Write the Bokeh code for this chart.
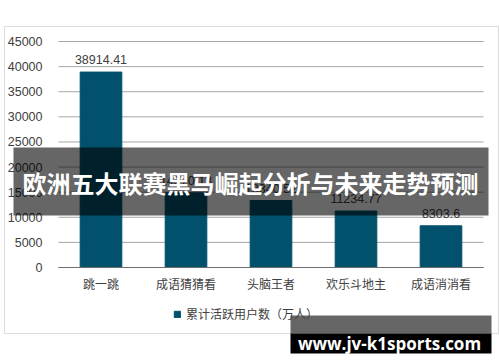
from bokeh.plotting import figure
from bokeh.models import (ColumnDataSource, LabelSet, Label, BoxAnnotation, Legend,
                          LegendItem, Range1d, FixedTicker)
from bokeh.core.properties import value
from bokeh.embed import file_html
from bokeh.resources import INLINE

categories = ["跳一跳", "成语猜猜看", "头脑王者", "欢乐斗地主", "成语消消看"]
active_users = [38914.41, 14870.13, 13340.52, 11234.77, 8303.6]
bar_labels = ["38914.41", "14870.13", "13340.52", "11234.77", "8303.6"]
y_ticks = [0, 5000, 10000, 15000, 20000, 25000, 30000, 35000, 40000, 45000]
series_name = "累计活跃用户数（万人）"
banner_title = "欧洲五大联赛黑马崛起分析与未来走势预测"
watermark = "www.jv-k1sports.com"

BAR = "#01516c"
TXT = "#404040"
W, H = 500, 362
# plot area (pixels) inside the full-canvas frame
PL, PR, PT, PB = 58, 483, 41, 267
YMAX = 45000

n = len(categories)
xpos = list(range(n))
band = (PR - PL) / n                      # px per category
x_lo = -0.5 - PL / band
x_hi = n - 0.5 + (W - PR) / band
ppy = (PB - PT) / YMAX                    # px per unit
y_lo = -(H - PB) / ppy
y_hi = YMAX + PT / ppy

src = ColumnDataSource(dict(x=xpos, val=active_users, lab=bar_labels))
grid_src = ColumnDataSource(dict(y=y_ticks, x0=[-0.5] * len(y_ticks), x1=[n - 0.5] * len(y_ticks)))

p = figure(width=W, height=H, x_range=Range1d(x_lo, x_hi), y_range=Range1d(y_lo, y_hi),
           output_backend="svg", toolbar_location=None, min_border=0)
p.outline_line_color = None
p.background_fill_color = "white"
p.border_fill_color = "white"
p.xgrid.grid_line_color = None
p.ygrid.grid_line_color = None

# horizontal gridlines at the y ticks, spanning the category bands
p.segment(x0="x0", x1="x1", y0="y", y1="y", source=grid_src, line_color="#a6a6a6", line_width=1)

r = p.vbar(x="x", top="val", width=0.49, source=src, fill_color=BAR, line_color=BAR)

# axes drawn inside the frame
p.yaxis.fixed_location = -0.5
p.yaxis.ticker = FixedTicker(ticks=y_ticks)
p.yaxis.axis_line_color = None
p.yaxis.major_tick_line_color = None
p.yaxis.minor_tick_line_color = None
p.yaxis.major_label_text_font = "Liberation Sans"
p.yaxis.major_label_text_font_size = "12.5px"
p.yaxis.major_label_text_color = TXT
p.yaxis.major_label_standoff = 10

p.xaxis.fixed_location = 0
p.xaxis.bounds = (-0.5, n - 0.5)
p.xaxis.ticker = FixedTicker(ticks=xpos)
p.xaxis.major_label_overrides = {i: c for i, c in zip(xpos, categories)}
p.xaxis.axis_line_color = "#6e6e6e"
p.xaxis.major_tick_line_color = None
p.xaxis.minor_tick_line_color = None
p.xaxis.major_label_text_font = "Noto Sans CJK SC"
p.xaxis.major_label_text_font_size = "12px"
p.xaxis.major_label_text_color = TXT
p.xaxis.major_label_standoff = 1

labels = LabelSet(x="x", y="val", text="lab", source=src, y_offset=8,
                  text_align="center", text_baseline="alphabetic",
                  text_font=value("Liberation Sans"), text_font_size="12.5px", text_color=TXT)
p.add_layout(labels)

legend = Legend(items=[LegendItem(label=series_name, renderers=[r])], location=(173, 40),
                border_line_alpha=0, background_fill_alpha=0, glyph_width=8, glyph_height=8,
                label_text_font="Noto Sans CJK SC", label_text_font_size="12px",
                label_text_color=TXT, padding=0, margin=0, label_standoff=5,
                label_height=12)
p.add_layout(legend)

def canvas_box(l, r_, t, b, **kw):
    return BoxAnnotation(left=l, right=r_, top=t, bottom=b,
                         left_units="canvas", right_units="canvas",
                         top_units="canvas", bottom_units="canvas", **kw)

# outer chart border
p.add_layout(canvas_box(4, 498, 26, 333, fill_alpha=0, line_color="#8c8c8c", line_width=1))

# banner overlay
p.add_layout(canvas_box(13, 488, 147, 215, fill_color="black", fill_alpha=0.6, line_alpha=0))
p.add_layout(Label(x=250, y=182, x_units="canvas", y_units="canvas", text=banner_title,
                   text_align="center", text_baseline="middle",
                   text_font="Noto Sans CJK SC", text_font_style="bold",
                   text_font_size="24px", text_color="white"))

# watermark
p.add_layout(canvas_box(290, 491, 315, 333, fill_color="black", fill_alpha=0.6, line_alpha=0))
p.add_layout(canvas_box(290, 491, 333, 353, fill_color="black", fill_alpha=1.0, line_alpha=0))
p.add_layout(Label(x=389, y=343, x_units="canvas", y_units="canvas", text=watermark,
                   text_align="center", text_baseline="alphabetic",
                   text_font="Open Sans", text_font_style="bold",
                   text_font_size="17px", text_color="white"))

open("out.html", "w").write(file_html(p, INLINE))
